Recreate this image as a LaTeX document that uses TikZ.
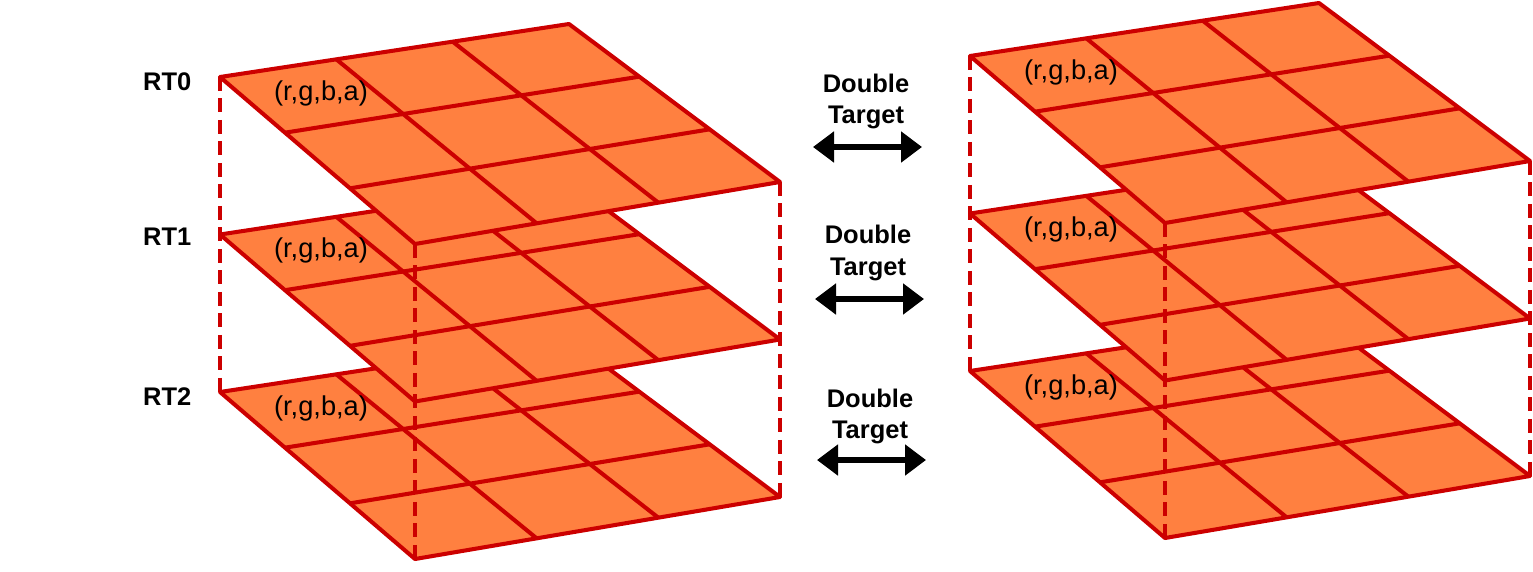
\documentclass[tikz,border=0pt]{standalone}
\usepackage{fontspec}
\setmainfont{Liberation Sans}
\usetikzlibrary{arrows.meta,calc}
\definecolor{texfill}{HTML}{FF8040}
\definecolor{texedge}{HTML}{CC0000}

\begin{document}
\begin{tikzpicture}[x=0.02cm,y=-0.02cm,
    plane/.style={draw=texedge,fill=texfill,line width=2.3pt,line join=round},
    gridline/.style={draw=texedge,line width=2.3pt},
    pillar/.style={draw=texedge,line width=2.4pt,dash pattern=on 0.28cm off 0.15cm},
    rtlabel/.style={font=\fontsize{14.5}{16}\selectfont\bfseries,anchor=base west},
    duallabel/.style={font=\fontsize{14.5}{16}\selectfont\bfseries,anchor=base},
    pixel/.style={font=\fontsize{15.5}{17}\selectfont},
    swap/.style={line width=2.9pt,{Triangle[length=0.42cm,width=0.6cm]}-{Triangle[length=0.42cm,width=0.6cm]}}]
  \useasboundingbox (0,0) rectangle (1533,571);

  % two stacks of render targets, bottom layer first
  \foreach \stack/\dx/\dy in {l/0/0,r/750/-21}{
    \foreach \k in {2,1,0}{
      \coordinate (\stack\k-L) at (220+\dx,77+\dy+157.5*\k);
      \coordinate (\stack\k-T) at (569+\dx,24+\dy+157.5*\k);
      \coordinate (\stack\k-R) at (780+\dx,182+\dy+157.5*\k);
      \coordinate (\stack\k-B) at (415+\dx,244+\dy+157.5*\k);
      \draw[plane] (\stack\k-L) -- (\stack\k-T) -- (\stack\k-R) -- (\stack\k-B) -- cycle;
      \foreach \f in {1/3,2/3}{
        \draw[gridline] ($(\stack\k-L)!\f!(\stack\k-T)$) -- ($(\stack\k-B)!\f!(\stack\k-R)$);
        \draw[gridline] ($(\stack\k-L)!\f!(\stack\k-B)$) -- ($(\stack\k-T)!\f!(\stack\k-R)$);
      }
      \node[pixel] (\stack\k-px) at (321+\dx,93+\dy+157.5*\k) {(r,g,b,a)};
    }
    \draw[pillar] (\stack0-L) -- (\stack2-L);
    \draw[pillar] (\stack0-B) -- (\stack2-B);
    \draw[pillar] (\stack0-R) -- (\stack2-R);
  }

  % layer names
  \node[rtlabel] (rt0) at (137,91) {RT0};
  \node[rtlabel] (rt1) at (137,245) {RT1};
  \node[rtlabel] (rt2) at (137,405) {RT2};

  % double target arrows
  \foreach \i/\cx/\yd/\yt/\ya in {0/866/92/123/147,1/868/243/275/299,2/870/407/438/460}{
    \node[duallabel] (dbl\i) at (\cx,\yd) {Double};
    \node[duallabel] (tgt\i) at (\cx,\yt) {Target};
    \coordinate (sw\i-a) at (\cx-53,\ya);
    \coordinate (sw\i-b) at (\cx+56,\ya);
    \draw[swap] (sw\i-a) -- (sw\i-b);
  }
\end{tikzpicture}
\end{document}
